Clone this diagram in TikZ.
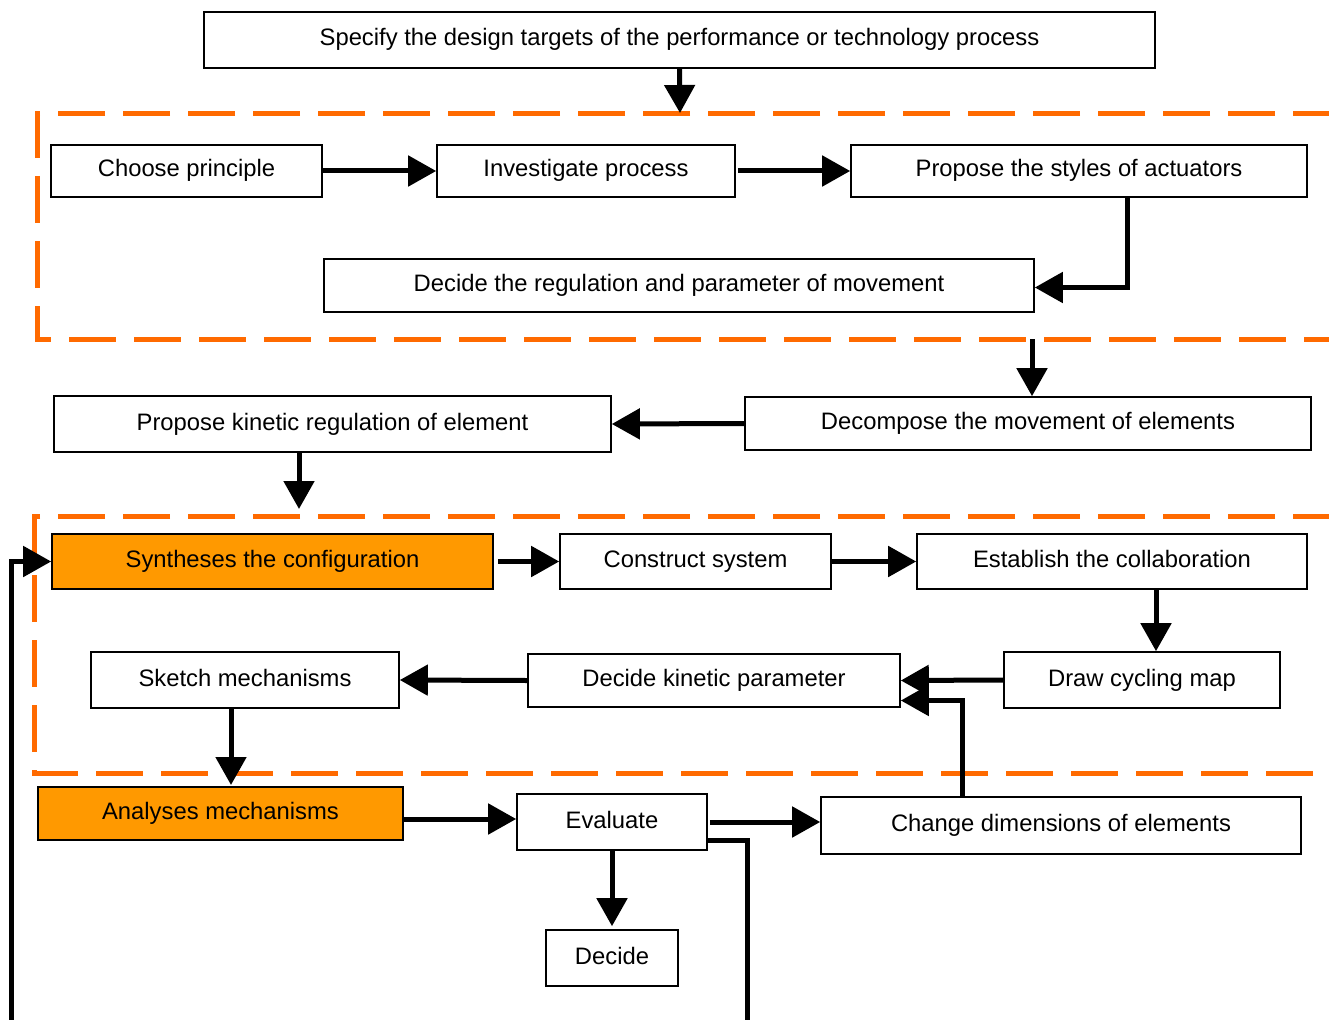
\documentclass[tikz,border=0pt]{standalone}
\usepackage{fontspec}
\setmainfont{Liberation Sans}
\usetikzlibrary{arrows.meta}

\definecolor{zoneorange}{HTML}{FF6A00}
\definecolor{hotorange}{HTML}{FF9900}

\begin{document}
\begin{tikzpicture}[x=1pt, y=-1pt,
	box/.style = {draw, line width=1.6pt, inner sep=0pt, align=center,
		text height=17pt, text depth=5pt,
		font=\fontsize{23.8}{28}\selectfont},
	hot/.style = {box, fill=hotorange},
	link/.style = {line width=5pt, -{Triangle[length=28pt, width=30pt]}},
	feed/.style = {line width=5pt},
	zone/.style = {draw=zoneorange, line width=5pt, dash pattern=on 47pt off 18pt}]
\clip (0, 0) rectangle (1329, 1019);

% dashed zones
\draw[zone] (1340, 114) -- (37, 114) -- (37, 339) -- (1340, 339);
\draw[zone] (1340, 516) -- (34, 516) -- (34, 773) -- (1318, 773);

\node[box, minimum width=951, minimum height=56] (spec) at (679.5, 40)
	{Specify the design targets of the performance or technology process};

\node[box, minimum width=271, minimum height=52] (choose) at (186.5, 171) {Choose principle};
\node[box, minimum width=298, minimum height=52] (invest) at (586, 171) {Investigate process};
\node[box, minimum width=456, minimum height=52] (styles) at (1079, 171) {Propose the styles of actuators};
\node[box, minimum width=710, minimum height=53] (regul) at (679, 285.5)
	{Decide the regulation and parameter of movement};

\node[box, minimum width=566, minimum height=53] (decomp) at (1028, 423.5)
	{Decompose the movement of elements};
\node[box, minimum width=557, minimum height=56] (kinreg) at (332.5, 424)
	{Propose kinetic regulation of element};

\node[hot, minimum width=441, minimum height=55] (synth) at (272.5, 561.5) {Syntheses the configuration};
\node[box, minimum width=271, minimum height=55] (constr) at (695.5, 561.5) {Construct system};
\node[box, minimum width=390, minimum height=55] (collab) at (1112, 561.5) {Establish the collaboration};

\node[box, minimum width=276, minimum height=56] (cycmap) at (1142, 680) {Draw cycling map};
\node[box, minimum width=372, minimum height=53] (kinpar) at (714, 680.5) {Decide kinetic parameter};
\node[box, minimum width=308, minimum height=56] (sketch) at (245, 680) {Sketch mechanisms};

\node[hot, minimum width=365, minimum height=53] (analys) at (220.5, 813.5) {Analyses mechanisms};
\node[box, minimum width=190, minimum height=56] (evalu) at (612, 822) {Evaluate};
\node[box, minimum width=480, minimum height=57] (chdim) at (1061, 825.5) {Change dimensions of elements};
\node[box, minimum width=132, minimum height=56] (decide) at (612, 958) {Decide};

\coordinate (gapA) at (680, 113);
\coordinate (gapB) at (1032, 339);
\coordinate (gapC) at (299, 509);
\coordinate (gapD) at (231, 785);
\coordinate (loopL) at (11, 1030);
\coordinate (loopR) at (747, 1030);

% arrows
\draw[link] (spec.south) -- (gapA);
\draw[link] (choose.east) -- (invest.west);
\draw[link] ([xshift=2pt]invest.east) -- (styles.west);
\draw[link] ([xshift=48pt]styles.south) |- ([yshift=-2pt]regul.east);
\draw[link] (gapB) -- (gapB |- decomp.north);
\draw[link] (decomp.west) -- (kinreg.east);
\draw[link] (kinreg.south -| gapC) -- (gapC);

\draw[link] ([xshift=4pt]synth.east) -- (constr.west);
\draw[link] (constr.east) -- (collab.west);
\draw[link] ([xshift=44pt]collab.south) -- ([xshift=44pt]collab.south |- cycmap.north);
\draw[link] (cycmap.west) -- (kinpar.east);
\draw[link] (kinpar.west) -- (sketch.east);
\draw[link] ([xshift=-99pt]chdim.north) |- ([yshift=-20pt]kinpar.east);
\draw[link] (sketch.south -| gapD) -- (gapD);

\draw[link] ([yshift=3pt]analys.east |- evalu.west) -- ([yshift=3pt]evalu.west);
\draw[link] ([xshift=2pt]evalu.east) -- (evalu.east -| chdim.west);
\draw[link, shorten >=3pt] (evalu.south) -- (decide.north);
\draw[feed] ([yshift=-18pt]evalu.east) -| (loopR);
\draw[link] (loopL) |- (synth.west);
\end{tikzpicture}
\end{document}
